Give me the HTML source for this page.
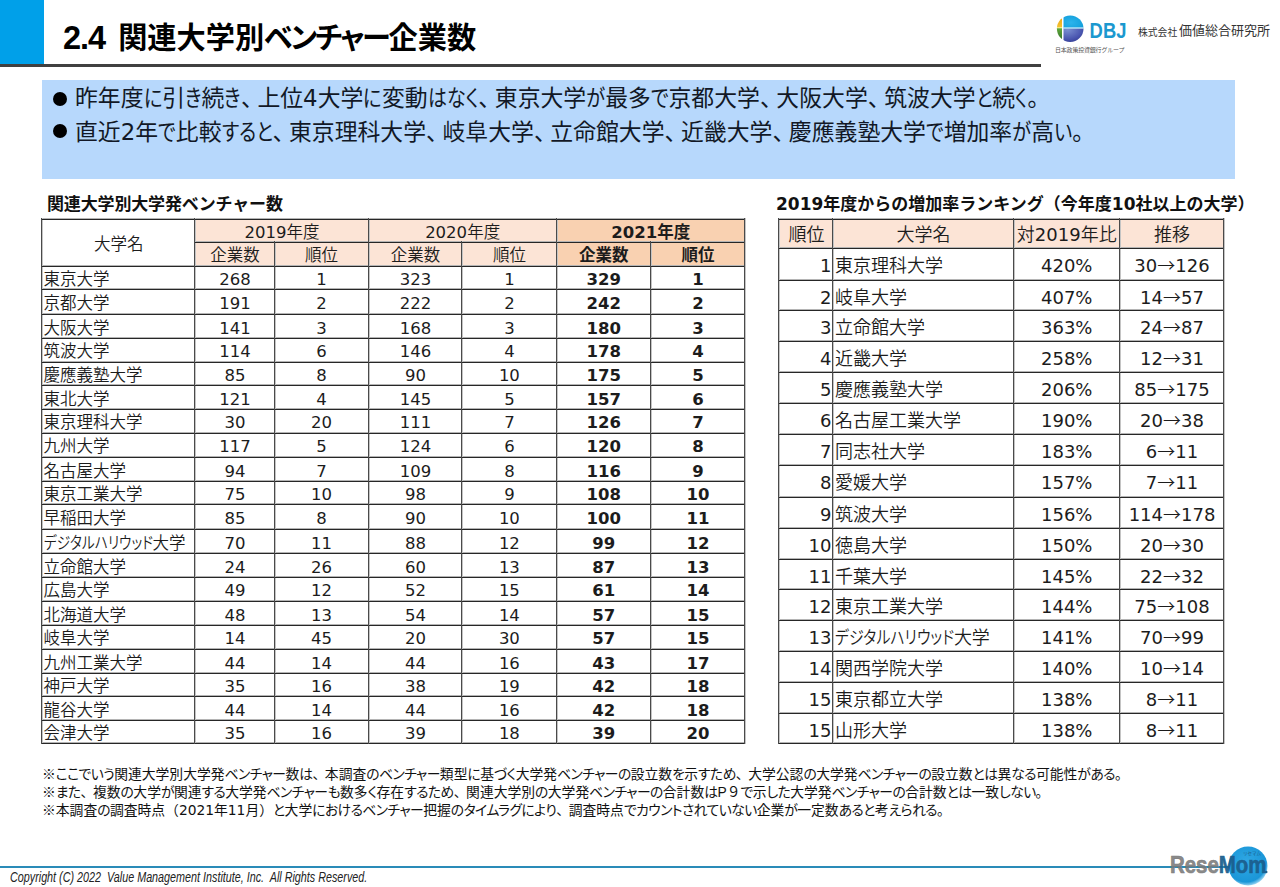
<!DOCTYPE html>
<html lang="ja"><head><meta charset="utf-8"><title>2.4</title><style>
*{margin:0;padding:0;box-sizing:border-box}
html,body{width:1280px;height:887px;overflow:hidden;background:#fff}
body{position:relative;font-family:"Liberation Sans","Noto Sans CJK JP",sans-serif;color:#111}
.a{position:absolute}
.sk{display:inline-block;transform:scaleX(0.83);transform-origin:0 50%;font-feature-settings:"palt"}
.hl{height:2px;background:linear-gradient(#b4b4b4 50%,#262626 50%)}
.vl{width:2px;background:linear-gradient(90deg,#4a4a4a 50%,#c4c4c4 50%)}
.c,.cl,.cr{position:absolute;white-space:nowrap;text-align:center;font-feature-settings:"palt";color:#1c1c1c}
.cl{text-align:left;padding-left:1.5px}
.cr{text-align:right;padding-right:2px}
.b{font-weight:bold}
.h{letter-spacing:var(--hl,-0.15em);font-feature-settings:"palt"}
.ar{font-family:"Noto Sans CJK JP",sans-serif;line-height:0}
.d{font-family:"DejaVu Sans","Noto Sans CJK JP",sans-serif;line-height:0;font-weight:400}
.b .d,.sub .d{font-weight:700}
.p{font-feature-settings:normal;letter-spacing:var(--pl,-0.28em)}
#title{left:63px;top:14px;font-size:29.2px;font-weight:bold;white-space:nowrap;line-height:48px;color:#000}
#title .num{font-size:32.5px;letter-spacing:-1px;margin-right:13px}
#title .kt{letter-spacing:-2.2px}
#title .t{font-feature-settings:"palt";position:relative;top:-1.5px}
.bul{position:absolute;left:52px;font-size:22.85px;font-weight:400;white-space:nowrap;line-height:32px;color:#121826;font-feature-settings:"palt"}
.bul .dot{position:absolute;left:1px;top:10px;width:14px;height:14px;border-radius:50%;background:#000}
.bul .tx{position:absolute;left:23px;top:0}
.sub{position:absolute;font-size:17px;font-weight:bold;white-space:nowrap;color:#111;line-height:24px}
.lt{font-size:16.5px;font-weight:350}
.rt{font-size:18px;font-weight:350}
.note{--hl:-0.04em;--pl:-0.1em;position:absolute;left:42px;font-size:13.8px;line-height:17.5px;white-space:nowrap;color:#111}
#dbj{left:1088px;top:14.5px;font-size:24px;font-weight:bold;color:#1a98cf;letter-spacing:-3.6px;line-height:30px;font-family:"Liberation Sans",sans-serif}
#dbjs{left:1055px;top:46px;font-size:6px;line-height:8px;color:#555;white-space:nowrap;letter-spacing:-0.2px}
#vmi{left:1179px;top:21px;font-size:13px;line-height:20px;color:#333;white-space:nowrap;letter-spacing:0px}
#vmi .s{position:absolute;left:-41px;top:2px;font-size:9.8px}
#copy{left:10px;top:868px;font-size:14.5px;line-height:18px;font-style:italic;white-space:nowrap;color:#222;transform:scaleX(0.743);transform-origin:0 0}
</style></head><body>
<div class="a" style="left:0;top:0;width:44px;height:64px;background:#00a0e9"></div>
<div class="a" style="left:0;top:64px;width:1041px;height:3px;background:#404040"></div>
<div id="title" class="a"><span class="num">2.4</span><span class="t">関連大学別<span class="kt">ベンチャー</span>企業数</span></div>
<svg class="a" style="left:1050px;top:10px" width="40" height="38" viewBox="1050 10 40 38">
<defs>
<clipPath id="cc"><circle cx="1070.2" cy="28.7" r="13.3"/></clipPath>
<linearGradient id="gy" x1="0" y1="0" x2="0" y2="1"><stop offset="0" stop-color="#e8a018"/><stop offset="1" stop-color="#f6c430"/></linearGradient>
<linearGradient id="gg" x1="0" y1="0" x2="0" y2="1"><stop offset="0" stop-color="#62aa3c"/><stop offset="1" stop-color="#2c6a28"/></linearGradient>
<radialGradient id="gb" cx="0.35" cy="0.6" r="0.9"><stop offset="0" stop-color="#2cb4ec"/><stop offset="0.7" stop-color="#14a0dc"/><stop offset="1" stop-color="#0f6fa8"/></radialGradient>
<radialGradient id="gi" cx="0.2" cy="0.1" r="1.1"><stop offset="0" stop-color="#7a8ed0"/><stop offset="0.6" stop-color="#4a56b0"/><stop offset="1" stop-color="#2a3488"/></radialGradient>
</defs>
<g clip-path="url(#cc)">
<rect x="1055" y="15" width="7" height="13" fill="url(#gy)"/>
<rect x="1055" y="28" width="7" height="14" fill="url(#gg)"/>
<rect x="1063.5" y="15" width="21" height="12.6" fill="url(#gb)"/>
<rect x="1063.5" y="28.4" width="21" height="14" fill="url(#gi)"/>
<rect x="1055" y="27.2" width="7" height="1.1" fill="#f4f0a0"/>
<rect x="1063.5" y="27.4" width="21" height="1.2" fill="#9ed8f4"/>
</g>
</svg>
<svg class="a" style="left:1086px;top:16px" width="44" height="26" viewBox="1086 16 44 26"><text x="1089.6" y="37.5" font-family="Liberation Sans, sans-serif" font-weight="bold" font-size="22.4" textLength="36.8" lengthAdjust="spacingAndGlyphs" fill="#1b98cf">DBJ</text></svg>
<div class="a" id="dbjs">日本政策投資銀行グループ</div>
<div class="a" id="vmi"><span class="s">株式会社</span>価値総合研究所</div>
<div class="a" style="left:42px;top:80px;width:1193px;height:99px;background:#b7d8fc"></div>
<div class="bul" style="top:82px"><span class="dot"></span><span class="tx">昨年度<span class="sk" style="transform:scaleX(0.8442);margin-right:-3.43px">に</span>引<span class="sk" style="transform:scaleX(0.8284);margin-right:-3.43px">き</span>続<span class="sk" style="transform:scaleX(0.8284);margin-right:-3.43px">き</span><span class="p">、</span>上位<span class="d">4</span>大学<span class="sk" style="transform:scaleX(0.8442);margin-right:-3.43px">に</span>変動<span class="sk" style="transform:scaleX(0.8313);margin-right:-10.28px">はなく</span><span class="p">、</span>東京大学<span class="sk" style="transform:scaleX(0.8468);margin-right:-3.43px">が</span>最多<span class="sk" style="transform:scaleX(0.8376);margin-right:-3.43px">で</span>京都大学<span class="p">、</span>大阪大学<span class="p">、</span>筑波大学<span class="sk" style="transform:scaleX(0.8297);margin-right:-3.43px">と</span>続<span class="sk" style="transform:scaleX(0.7817);margin-right:-3.43px">く</span><span class="p">。</span></span></div>
<div class="bul" style="top:115.7px"><span class="dot" style="top:8.8px"></span><span class="tx">直近<span class="d">2</span>年<span class="sk" style="transform:scaleX(0.8376);margin-right:-3.43px">で</span>比較<span class="sk" style="transform:scaleX(0.8322);margin-right:-10.28px">すると</span><span class="p">、</span>東京理科大学<span class="p">、</span>岐阜大学<span class="p">、</span>立命館大学<span class="p">、</span>近畿大学<span class="p">、</span>慶應義塾大学<span class="sk" style="transform:scaleX(0.8376);margin-right:-3.43px">で</span>増加率<span class="sk" style="transform:scaleX(0.8468);margin-right:-3.43px">が</span>高<span class="sk" style="transform:scaleX(0.8412);margin-right:-3.43px">い</span><span class="p">。</span></span></div>
<div class="sub" style="left:47px;top:192.5px;letter-spacing:-0.15px">関連大学別大学発ベンチャー数</div>
<div class="sub" style="left:776px;top:192.5px"><span class="d">2019</span>年度からの増加率ランキング（今年度<span class="d">10</span>社以上の大学）</div>
<div class="lt">
<div class="a" style="left:195.30px;top:219.00px;width:361.30px;height:46.50px;background:#fce4d6"></div>
<div class="a" style="left:556.60px;top:219.00px;width:188.40px;height:46.50px;background:#f9d1b1"></div>
<div class="c" style="left:42.00px;top:219.00px;width:153.30px;height:46.50px;line-height:46.50px;padding-top:1.50px">大学名</div>
<div class="c" style="left:195.30px;top:219.00px;width:173.40px;height:23.40px;line-height:23.40px;padding-top:1.50px"><span class="d">2019</span>年度</div>
<div class="c" style="left:368.70px;top:219.00px;width:187.90px;height:23.40px;line-height:23.40px;padding-top:1.50px"><span class="d">2020</span>年度</div>
<div class="c b" style="left:556.60px;top:219.00px;width:188.40px;height:23.40px;line-height:23.40px;padding-top:1.50px"><span class="d">2021</span>年度</div>
<div class="c" style="left:195.30px;top:242.40px;width:79.20px;height:23.10px;line-height:23.10px;padding-top:1.50px">企業数</div>
<div class="c" style="left:274.50px;top:242.40px;width:94.20px;height:23.10px;line-height:23.10px;padding-top:1.50px">順位</div>
<div class="c" style="left:368.70px;top:242.40px;width:93.50px;height:23.10px;line-height:23.10px;padding-top:1.50px">企業数</div>
<div class="c" style="left:462.20px;top:242.40px;width:94.40px;height:23.10px;line-height:23.10px;padding-top:1.50px">順位</div>
<div class="c b" style="left:556.60px;top:242.40px;width:94.40px;height:23.10px;line-height:23.10px;padding-top:1.50px">企業数</div>
<div class="c b" style="left:651.00px;top:242.40px;width:94.00px;height:23.10px;line-height:23.10px;padding-top:1.50px">順位</div>
<div class="cl" style="left:42.00px;top:265.50px;width:153.30px;height:23.70px;line-height:23.70px;padding-top:2.00px">東京大学</div>
<div class="c" style="left:195.30px;top:265.50px;width:79.20px;height:23.70px;line-height:23.70px;padding-top:2.00px"><span class="d">268</span></div>
<div class="c" style="left:274.50px;top:265.50px;width:94.20px;height:23.70px;line-height:23.70px;padding-top:2.00px"><span class="d">1</span></div>
<div class="c" style="left:368.70px;top:265.50px;width:93.50px;height:23.70px;line-height:23.70px;padding-top:2.00px"><span class="d">323</span></div>
<div class="c" style="left:462.20px;top:265.50px;width:94.40px;height:23.70px;line-height:23.70px;padding-top:2.00px"><span class="d">1</span></div>
<div class="c b" style="left:556.60px;top:265.50px;width:94.40px;height:23.70px;line-height:23.70px;padding-top:2.00px"><span class="d">329</span></div>
<div class="c b" style="left:651.00px;top:265.50px;width:94.00px;height:23.70px;line-height:23.70px;padding-top:2.00px"><span class="d">1</span></div>
<div class="cl" style="left:42.00px;top:289.20px;width:153.30px;height:24.40px;line-height:24.40px;padding-top:2.00px">京都大学</div>
<div class="c" style="left:195.30px;top:289.20px;width:79.20px;height:24.40px;line-height:24.40px;padding-top:2.00px"><span class="d">191</span></div>
<div class="c" style="left:274.50px;top:289.20px;width:94.20px;height:24.40px;line-height:24.40px;padding-top:2.00px"><span class="d">2</span></div>
<div class="c" style="left:368.70px;top:289.20px;width:93.50px;height:24.40px;line-height:24.40px;padding-top:2.00px"><span class="d">222</span></div>
<div class="c" style="left:462.20px;top:289.20px;width:94.40px;height:24.40px;line-height:24.40px;padding-top:2.00px"><span class="d">2</span></div>
<div class="c b" style="left:556.60px;top:289.20px;width:94.40px;height:24.40px;line-height:24.40px;padding-top:2.00px"><span class="d">242</span></div>
<div class="c b" style="left:651.00px;top:289.20px;width:94.00px;height:24.40px;line-height:24.40px;padding-top:2.00px"><span class="d">2</span></div>
<div class="cl" style="left:42.00px;top:313.60px;width:153.30px;height:24.10px;line-height:24.10px;padding-top:2.00px">大阪大学</div>
<div class="c" style="left:195.30px;top:313.60px;width:79.20px;height:24.10px;line-height:24.10px;padding-top:2.00px"><span class="d">141</span></div>
<div class="c" style="left:274.50px;top:313.60px;width:94.20px;height:24.10px;line-height:24.10px;padding-top:2.00px"><span class="d">3</span></div>
<div class="c" style="left:368.70px;top:313.60px;width:93.50px;height:24.10px;line-height:24.10px;padding-top:2.00px"><span class="d">168</span></div>
<div class="c" style="left:462.20px;top:313.60px;width:94.40px;height:24.10px;line-height:24.10px;padding-top:2.00px"><span class="d">3</span></div>
<div class="c b" style="left:556.60px;top:313.60px;width:94.40px;height:24.10px;line-height:24.10px;padding-top:2.00px"><span class="d">180</span></div>
<div class="c b" style="left:651.00px;top:313.60px;width:94.00px;height:24.10px;line-height:24.10px;padding-top:2.00px"><span class="d">3</span></div>
<div class="cl" style="left:42.00px;top:337.70px;width:153.30px;height:23.80px;line-height:23.80px;padding-top:2.00px">筑波大学</div>
<div class="c" style="left:195.30px;top:337.70px;width:79.20px;height:23.80px;line-height:23.80px;padding-top:2.00px"><span class="d">114</span></div>
<div class="c" style="left:274.50px;top:337.70px;width:94.20px;height:23.80px;line-height:23.80px;padding-top:2.00px"><span class="d">6</span></div>
<div class="c" style="left:368.70px;top:337.70px;width:93.50px;height:23.80px;line-height:23.80px;padding-top:2.00px"><span class="d">146</span></div>
<div class="c" style="left:462.20px;top:337.70px;width:94.40px;height:23.80px;line-height:23.80px;padding-top:2.00px"><span class="d">4</span></div>
<div class="c b" style="left:556.60px;top:337.70px;width:94.40px;height:23.80px;line-height:23.80px;padding-top:2.00px"><span class="d">178</span></div>
<div class="c b" style="left:651.00px;top:337.70px;width:94.00px;height:23.80px;line-height:23.80px;padding-top:2.00px"><span class="d">4</span></div>
<div class="cl" style="left:42.00px;top:361.50px;width:153.30px;height:23.80px;line-height:23.80px;padding-top:2.00px">慶應義塾大学</div>
<div class="c" style="left:195.30px;top:361.50px;width:79.20px;height:23.80px;line-height:23.80px;padding-top:2.00px"><span class="d">85</span></div>
<div class="c" style="left:274.50px;top:361.50px;width:94.20px;height:23.80px;line-height:23.80px;padding-top:2.00px"><span class="d">8</span></div>
<div class="c" style="left:368.70px;top:361.50px;width:93.50px;height:23.80px;line-height:23.80px;padding-top:2.00px"><span class="d">90</span></div>
<div class="c" style="left:462.20px;top:361.50px;width:94.40px;height:23.80px;line-height:23.80px;padding-top:2.00px"><span class="d">10</span></div>
<div class="c b" style="left:556.60px;top:361.50px;width:94.40px;height:23.80px;line-height:23.80px;padding-top:2.00px"><span class="d">175</span></div>
<div class="c b" style="left:651.00px;top:361.50px;width:94.00px;height:23.80px;line-height:23.80px;padding-top:2.00px"><span class="d">5</span></div>
<div class="cl" style="left:42.00px;top:385.30px;width:153.30px;height:24.10px;line-height:24.10px;padding-top:2.00px">東北大学</div>
<div class="c" style="left:195.30px;top:385.30px;width:79.20px;height:24.10px;line-height:24.10px;padding-top:2.00px"><span class="d">121</span></div>
<div class="c" style="left:274.50px;top:385.30px;width:94.20px;height:24.10px;line-height:24.10px;padding-top:2.00px"><span class="d">4</span></div>
<div class="c" style="left:368.70px;top:385.30px;width:93.50px;height:24.10px;line-height:24.10px;padding-top:2.00px"><span class="d">145</span></div>
<div class="c" style="left:462.20px;top:385.30px;width:94.40px;height:24.10px;line-height:24.10px;padding-top:2.00px"><span class="d">5</span></div>
<div class="c b" style="left:556.60px;top:385.30px;width:94.40px;height:24.10px;line-height:24.10px;padding-top:2.00px"><span class="d">157</span></div>
<div class="c b" style="left:651.00px;top:385.30px;width:94.00px;height:24.10px;line-height:24.10px;padding-top:2.00px"><span class="d">6</span></div>
<div class="cl" style="left:42.00px;top:409.40px;width:153.30px;height:23.80px;line-height:23.80px;padding-top:2.00px">東京理科大学</div>
<div class="c" style="left:195.30px;top:409.40px;width:79.20px;height:23.80px;line-height:23.80px;padding-top:2.00px"><span class="d">30</span></div>
<div class="c" style="left:274.50px;top:409.40px;width:94.20px;height:23.80px;line-height:23.80px;padding-top:2.00px"><span class="d">20</span></div>
<div class="c" style="left:368.70px;top:409.40px;width:93.50px;height:23.80px;line-height:23.80px;padding-top:2.00px"><span class="d">111</span></div>
<div class="c" style="left:462.20px;top:409.40px;width:94.40px;height:23.80px;line-height:23.80px;padding-top:2.00px"><span class="d">7</span></div>
<div class="c b" style="left:556.60px;top:409.40px;width:94.40px;height:23.80px;line-height:23.80px;padding-top:2.00px"><span class="d">126</span></div>
<div class="c b" style="left:651.00px;top:409.40px;width:94.00px;height:23.80px;line-height:23.80px;padding-top:2.00px"><span class="d">7</span></div>
<div class="cl" style="left:42.00px;top:433.20px;width:153.30px;height:23.80px;line-height:23.80px;padding-top:2.00px">九州大学</div>
<div class="c" style="left:195.30px;top:433.20px;width:79.20px;height:23.80px;line-height:23.80px;padding-top:2.00px"><span class="d">117</span></div>
<div class="c" style="left:274.50px;top:433.20px;width:94.20px;height:23.80px;line-height:23.80px;padding-top:2.00px"><span class="d">5</span></div>
<div class="c" style="left:368.70px;top:433.20px;width:93.50px;height:23.80px;line-height:23.80px;padding-top:2.00px"><span class="d">124</span></div>
<div class="c" style="left:462.20px;top:433.20px;width:94.40px;height:23.80px;line-height:23.80px;padding-top:2.00px"><span class="d">6</span></div>
<div class="c b" style="left:556.60px;top:433.20px;width:94.40px;height:23.80px;line-height:23.80px;padding-top:2.00px"><span class="d">120</span></div>
<div class="c b" style="left:651.00px;top:433.20px;width:94.00px;height:23.80px;line-height:23.80px;padding-top:2.00px"><span class="d">8</span></div>
<div class="cl" style="left:42.00px;top:457.00px;width:153.30px;height:24.00px;line-height:24.00px;padding-top:2.00px">名古屋大学</div>
<div class="c" style="left:195.30px;top:457.00px;width:79.20px;height:24.00px;line-height:24.00px;padding-top:2.00px"><span class="d">94</span></div>
<div class="c" style="left:274.50px;top:457.00px;width:94.20px;height:24.00px;line-height:24.00px;padding-top:2.00px"><span class="d">7</span></div>
<div class="c" style="left:368.70px;top:457.00px;width:93.50px;height:24.00px;line-height:24.00px;padding-top:2.00px"><span class="d">109</span></div>
<div class="c" style="left:462.20px;top:457.00px;width:94.40px;height:24.00px;line-height:24.00px;padding-top:2.00px"><span class="d">8</span></div>
<div class="c b" style="left:556.60px;top:457.00px;width:94.40px;height:24.00px;line-height:24.00px;padding-top:2.00px"><span class="d">116</span></div>
<div class="c b" style="left:651.00px;top:457.00px;width:94.00px;height:24.00px;line-height:24.00px;padding-top:2.00px"><span class="d">9</span></div>
<div class="cl" style="left:42.00px;top:481.00px;width:153.30px;height:23.20px;line-height:23.20px;padding-top:2.00px">東京工業大学</div>
<div class="c" style="left:195.30px;top:481.00px;width:79.20px;height:23.20px;line-height:23.20px;padding-top:2.00px"><span class="d">75</span></div>
<div class="c" style="left:274.50px;top:481.00px;width:94.20px;height:23.20px;line-height:23.20px;padding-top:2.00px"><span class="d">10</span></div>
<div class="c" style="left:368.70px;top:481.00px;width:93.50px;height:23.20px;line-height:23.20px;padding-top:2.00px"><span class="d">98</span></div>
<div class="c" style="left:462.20px;top:481.00px;width:94.40px;height:23.20px;line-height:23.20px;padding-top:2.00px"><span class="d">9</span></div>
<div class="c b" style="left:556.60px;top:481.00px;width:94.40px;height:23.20px;line-height:23.20px;padding-top:2.00px"><span class="d">108</span></div>
<div class="c b" style="left:651.00px;top:481.00px;width:94.00px;height:23.20px;line-height:23.20px;padding-top:2.00px"><span class="d">10</span></div>
<div class="cl" style="left:42.00px;top:504.20px;width:153.30px;height:24.50px;line-height:24.50px;padding-top:2.00px">早稲田大学</div>
<div class="c" style="left:195.30px;top:504.20px;width:79.20px;height:24.50px;line-height:24.50px;padding-top:2.00px"><span class="d">85</span></div>
<div class="c" style="left:274.50px;top:504.20px;width:94.20px;height:24.50px;line-height:24.50px;padding-top:2.00px"><span class="d">8</span></div>
<div class="c" style="left:368.70px;top:504.20px;width:93.50px;height:24.50px;line-height:24.50px;padding-top:2.00px"><span class="d">90</span></div>
<div class="c" style="left:462.20px;top:504.20px;width:94.40px;height:24.50px;line-height:24.50px;padding-top:2.00px"><span class="d">10</span></div>
<div class="c b" style="left:556.60px;top:504.20px;width:94.40px;height:24.50px;line-height:24.50px;padding-top:2.00px"><span class="d">100</span></div>
<div class="c b" style="left:651.00px;top:504.20px;width:94.00px;height:24.50px;line-height:24.50px;padding-top:2.00px"><span class="d">11</span></div>
<div class="cl" style="left:42.00px;top:528.70px;width:153.30px;height:24.00px;line-height:24.00px;padding-top:2.00px"><span class="sk" style="margin-right:-1.354em">デジタルハリウッド</span>大学</div>
<div class="c" style="left:195.30px;top:528.70px;width:79.20px;height:24.00px;line-height:24.00px;padding-top:2.00px"><span class="d">70</span></div>
<div class="c" style="left:274.50px;top:528.70px;width:94.20px;height:24.00px;line-height:24.00px;padding-top:2.00px"><span class="d">11</span></div>
<div class="c" style="left:368.70px;top:528.70px;width:93.50px;height:24.00px;line-height:24.00px;padding-top:2.00px"><span class="d">88</span></div>
<div class="c" style="left:462.20px;top:528.70px;width:94.40px;height:24.00px;line-height:24.00px;padding-top:2.00px"><span class="d">12</span></div>
<div class="c b" style="left:556.60px;top:528.70px;width:94.40px;height:24.00px;line-height:24.00px;padding-top:2.00px"><span class="d">99</span></div>
<div class="c b" style="left:651.00px;top:528.70px;width:94.00px;height:24.00px;line-height:24.00px;padding-top:2.00px"><span class="d">12</span></div>
<div class="cl" style="left:42.00px;top:552.70px;width:153.30px;height:24.00px;line-height:24.00px;padding-top:2.00px">立命館大学</div>
<div class="c" style="left:195.30px;top:552.70px;width:79.20px;height:24.00px;line-height:24.00px;padding-top:2.00px"><span class="d">24</span></div>
<div class="c" style="left:274.50px;top:552.70px;width:94.20px;height:24.00px;line-height:24.00px;padding-top:2.00px"><span class="d">26</span></div>
<div class="c" style="left:368.70px;top:552.70px;width:93.50px;height:24.00px;line-height:24.00px;padding-top:2.00px"><span class="d">60</span></div>
<div class="c" style="left:462.20px;top:552.70px;width:94.40px;height:24.00px;line-height:24.00px;padding-top:2.00px"><span class="d">13</span></div>
<div class="c b" style="left:556.60px;top:552.70px;width:94.40px;height:24.00px;line-height:24.00px;padding-top:2.00px"><span class="d">87</span></div>
<div class="c b" style="left:651.00px;top:552.70px;width:94.00px;height:24.00px;line-height:24.00px;padding-top:2.00px"><span class="d">13</span></div>
<div class="cl" style="left:42.00px;top:576.70px;width:153.30px;height:23.90px;line-height:23.90px;padding-top:2.00px">広島大学</div>
<div class="c" style="left:195.30px;top:576.70px;width:79.20px;height:23.90px;line-height:23.90px;padding-top:2.00px"><span class="d">49</span></div>
<div class="c" style="left:274.50px;top:576.70px;width:94.20px;height:23.90px;line-height:23.90px;padding-top:2.00px"><span class="d">12</span></div>
<div class="c" style="left:368.70px;top:576.70px;width:93.50px;height:23.90px;line-height:23.90px;padding-top:2.00px"><span class="d">52</span></div>
<div class="c" style="left:462.20px;top:576.70px;width:94.40px;height:23.90px;line-height:23.90px;padding-top:2.00px"><span class="d">15</span></div>
<div class="c b" style="left:556.60px;top:576.70px;width:94.40px;height:23.90px;line-height:23.90px;padding-top:2.00px"><span class="d">61</span></div>
<div class="c b" style="left:651.00px;top:576.70px;width:94.00px;height:23.90px;line-height:23.90px;padding-top:2.00px"><span class="d">14</span></div>
<div class="cl" style="left:42.00px;top:600.60px;width:153.30px;height:24.00px;line-height:24.00px;padding-top:2.00px">北海道大学</div>
<div class="c" style="left:195.30px;top:600.60px;width:79.20px;height:24.00px;line-height:24.00px;padding-top:2.00px"><span class="d">48</span></div>
<div class="c" style="left:274.50px;top:600.60px;width:94.20px;height:24.00px;line-height:24.00px;padding-top:2.00px"><span class="d">13</span></div>
<div class="c" style="left:368.70px;top:600.60px;width:93.50px;height:24.00px;line-height:24.00px;padding-top:2.00px"><span class="d">54</span></div>
<div class="c" style="left:462.20px;top:600.60px;width:94.40px;height:24.00px;line-height:24.00px;padding-top:2.00px"><span class="d">14</span></div>
<div class="c b" style="left:556.60px;top:600.60px;width:94.40px;height:24.00px;line-height:24.00px;padding-top:2.00px"><span class="d">57</span></div>
<div class="c b" style="left:651.00px;top:600.60px;width:94.00px;height:24.00px;line-height:24.00px;padding-top:2.00px"><span class="d">15</span></div>
<div class="cl" style="left:42.00px;top:624.60px;width:153.30px;height:23.90px;line-height:23.90px;padding-top:2.00px">岐阜大学</div>
<div class="c" style="left:195.30px;top:624.60px;width:79.20px;height:23.90px;line-height:23.90px;padding-top:2.00px"><span class="d">14</span></div>
<div class="c" style="left:274.50px;top:624.60px;width:94.20px;height:23.90px;line-height:23.90px;padding-top:2.00px"><span class="d">45</span></div>
<div class="c" style="left:368.70px;top:624.60px;width:93.50px;height:23.90px;line-height:23.90px;padding-top:2.00px"><span class="d">20</span></div>
<div class="c" style="left:462.20px;top:624.60px;width:94.40px;height:23.90px;line-height:23.90px;padding-top:2.00px"><span class="d">30</span></div>
<div class="c b" style="left:556.60px;top:624.60px;width:94.40px;height:23.90px;line-height:23.90px;padding-top:2.00px"><span class="d">57</span></div>
<div class="c b" style="left:651.00px;top:624.60px;width:94.00px;height:23.90px;line-height:23.90px;padding-top:2.00px"><span class="d">15</span></div>
<div class="cl" style="left:42.00px;top:648.50px;width:153.30px;height:24.00px;line-height:24.00px;padding-top:2.00px">九州工業大学</div>
<div class="c" style="left:195.30px;top:648.50px;width:79.20px;height:24.00px;line-height:24.00px;padding-top:2.00px"><span class="d">44</span></div>
<div class="c" style="left:274.50px;top:648.50px;width:94.20px;height:24.00px;line-height:24.00px;padding-top:2.00px"><span class="d">14</span></div>
<div class="c" style="left:368.70px;top:648.50px;width:93.50px;height:24.00px;line-height:24.00px;padding-top:2.00px"><span class="d">44</span></div>
<div class="c" style="left:462.20px;top:648.50px;width:94.40px;height:24.00px;line-height:24.00px;padding-top:2.00px"><span class="d">16</span></div>
<div class="c b" style="left:556.60px;top:648.50px;width:94.40px;height:24.00px;line-height:24.00px;padding-top:2.00px"><span class="d">43</span></div>
<div class="c b" style="left:651.00px;top:648.50px;width:94.00px;height:24.00px;line-height:24.00px;padding-top:2.00px"><span class="d">17</span></div>
<div class="cl" style="left:42.00px;top:672.50px;width:153.30px;height:23.90px;line-height:23.90px;padding-top:2.00px">神戸大学</div>
<div class="c" style="left:195.30px;top:672.50px;width:79.20px;height:23.90px;line-height:23.90px;padding-top:2.00px"><span class="d">35</span></div>
<div class="c" style="left:274.50px;top:672.50px;width:94.20px;height:23.90px;line-height:23.90px;padding-top:2.00px"><span class="d">16</span></div>
<div class="c" style="left:368.70px;top:672.50px;width:93.50px;height:23.90px;line-height:23.90px;padding-top:2.00px"><span class="d">38</span></div>
<div class="c" style="left:462.20px;top:672.50px;width:94.40px;height:23.90px;line-height:23.90px;padding-top:2.00px"><span class="d">19</span></div>
<div class="c b" style="left:556.60px;top:672.50px;width:94.40px;height:23.90px;line-height:23.90px;padding-top:2.00px"><span class="d">42</span></div>
<div class="c b" style="left:651.00px;top:672.50px;width:94.00px;height:23.90px;line-height:23.90px;padding-top:2.00px"><span class="d">18</span></div>
<div class="cl" style="left:42.00px;top:696.40px;width:153.30px;height:24.00px;line-height:24.00px;padding-top:2.00px">龍谷大学</div>
<div class="c" style="left:195.30px;top:696.40px;width:79.20px;height:24.00px;line-height:24.00px;padding-top:2.00px"><span class="d">44</span></div>
<div class="c" style="left:274.50px;top:696.40px;width:94.20px;height:24.00px;line-height:24.00px;padding-top:2.00px"><span class="d">14</span></div>
<div class="c" style="left:368.70px;top:696.40px;width:93.50px;height:24.00px;line-height:24.00px;padding-top:2.00px"><span class="d">44</span></div>
<div class="c" style="left:462.20px;top:696.40px;width:94.40px;height:24.00px;line-height:24.00px;padding-top:2.00px"><span class="d">16</span></div>
<div class="c b" style="left:556.60px;top:696.40px;width:94.40px;height:24.00px;line-height:24.00px;padding-top:2.00px"><span class="d">42</span></div>
<div class="c b" style="left:651.00px;top:696.40px;width:94.00px;height:24.00px;line-height:24.00px;padding-top:2.00px"><span class="d">18</span></div>
<div class="cl" style="left:42.00px;top:720.40px;width:153.30px;height:22.90px;line-height:22.90px;padding-top:2.00px">会津大学</div>
<div class="c" style="left:195.30px;top:720.40px;width:79.20px;height:22.90px;line-height:22.90px;padding-top:2.00px"><span class="d">35</span></div>
<div class="c" style="left:274.50px;top:720.40px;width:94.20px;height:22.90px;line-height:22.90px;padding-top:2.00px"><span class="d">16</span></div>
<div class="c" style="left:368.70px;top:720.40px;width:93.50px;height:22.90px;line-height:22.90px;padding-top:2.00px"><span class="d">39</span></div>
<div class="c" style="left:462.20px;top:720.40px;width:94.40px;height:22.90px;line-height:22.90px;padding-top:2.00px"><span class="d">18</span></div>
<div class="c b" style="left:556.60px;top:720.40px;width:94.40px;height:22.90px;line-height:22.90px;padding-top:2.00px"><span class="d">39</span></div>
<div class="c b" style="left:651.00px;top:720.40px;width:94.00px;height:22.90px;line-height:22.90px;padding-top:2.00px"><span class="d">20</span></div>
<div class="a" style="left:41px;top:218px;width:704px;height:1px;background:#b4b4b4"></div>
<div class="a" style="left:194px;top:241px;width:551px;height:1px;background:#b4b4b4"></div>
<div class="a" style="left:41px;top:265px;width:704px;height:1px;background:#b4b4b4"></div>
<div class="a" style="left:41px;top:288px;width:704px;height:1px;background:#b4b4b4"></div>
<div class="a" style="left:41px;top:313px;width:704px;height:1px;background:#b4b4b4"></div>
<div class="a" style="left:41px;top:337px;width:704px;height:1px;background:#b4b4b4"></div>
<div class="a" style="left:41px;top:361px;width:704px;height:1px;background:#b4b4b4"></div>
<div class="a" style="left:41px;top:384px;width:704px;height:1px;background:#b4b4b4"></div>
<div class="a" style="left:41px;top:408px;width:704px;height:1px;background:#b4b4b4"></div>
<div class="a" style="left:41px;top:432px;width:704px;height:1px;background:#b4b4b4"></div>
<div class="a" style="left:41px;top:456px;width:704px;height:1px;background:#b4b4b4"></div>
<div class="a" style="left:41px;top:480px;width:704px;height:1px;background:#b4b4b4"></div>
<div class="a" style="left:41px;top:503px;width:704px;height:1px;background:#b4b4b4"></div>
<div class="a" style="left:41px;top:528px;width:704px;height:1px;background:#b4b4b4"></div>
<div class="a" style="left:41px;top:552px;width:704px;height:1px;background:#b4b4b4"></div>
<div class="a" style="left:41px;top:576px;width:704px;height:1px;background:#b4b4b4"></div>
<div class="a" style="left:41px;top:600px;width:704px;height:1px;background:#b4b4b4"></div>
<div class="a" style="left:41px;top:624px;width:704px;height:1px;background:#b4b4b4"></div>
<div class="a" style="left:41px;top:648px;width:704px;height:1px;background:#b4b4b4"></div>
<div class="a" style="left:41px;top:672px;width:704px;height:1px;background:#b4b4b4"></div>
<div class="a" style="left:41px;top:695px;width:704px;height:1px;background:#b4b4b4"></div>
<div class="a" style="left:41px;top:719px;width:704px;height:1px;background:#b4b4b4"></div>
<div class="a" style="left:41px;top:742px;width:704px;height:1px;background:#b4b4b4"></div>
<div class="a" style="left:42px;top:218px;width:1px;height:526px;background:#c4c4c4"></div>
<div class="a" style="left:195px;top:218px;width:1px;height:526px;background:#c4c4c4"></div>
<div class="a" style="left:275px;top:241px;width:1px;height:503px;background:#c4c4c4"></div>
<div class="a" style="left:369px;top:218px;width:1px;height:526px;background:#c4c4c4"></div>
<div class="a" style="left:462px;top:241px;width:1px;height:503px;background:#c4c4c4"></div>
<div class="a" style="left:557px;top:218px;width:1px;height:526px;background:#c4c4c4"></div>
<div class="a" style="left:651px;top:241px;width:1px;height:503px;background:#c4c4c4"></div>
<div class="a" style="left:745px;top:218px;width:1px;height:526px;background:#c4c4c4"></div>
<div class="a" style="left:41px;top:219px;width:704px;height:1px;background:#262626"></div>
<div class="a" style="left:194px;top:242px;width:551px;height:1px;background:#262626"></div>
<div class="a" style="left:41px;top:266px;width:704px;height:1px;background:#262626"></div>
<div class="a" style="left:41px;top:289px;width:704px;height:1px;background:#262626"></div>
<div class="a" style="left:41px;top:314px;width:704px;height:1px;background:#262626"></div>
<div class="a" style="left:41px;top:338px;width:704px;height:1px;background:#262626"></div>
<div class="a" style="left:41px;top:362px;width:704px;height:1px;background:#262626"></div>
<div class="a" style="left:41px;top:385px;width:704px;height:1px;background:#262626"></div>
<div class="a" style="left:41px;top:409px;width:704px;height:1px;background:#262626"></div>
<div class="a" style="left:41px;top:433px;width:704px;height:1px;background:#262626"></div>
<div class="a" style="left:41px;top:457px;width:704px;height:1px;background:#262626"></div>
<div class="a" style="left:41px;top:481px;width:704px;height:1px;background:#262626"></div>
<div class="a" style="left:41px;top:504px;width:704px;height:1px;background:#262626"></div>
<div class="a" style="left:41px;top:529px;width:704px;height:1px;background:#262626"></div>
<div class="a" style="left:41px;top:553px;width:704px;height:1px;background:#262626"></div>
<div class="a" style="left:41px;top:577px;width:704px;height:1px;background:#262626"></div>
<div class="a" style="left:41px;top:601px;width:704px;height:1px;background:#262626"></div>
<div class="a" style="left:41px;top:625px;width:704px;height:1px;background:#262626"></div>
<div class="a" style="left:41px;top:649px;width:704px;height:1px;background:#262626"></div>
<div class="a" style="left:41px;top:673px;width:704px;height:1px;background:#262626"></div>
<div class="a" style="left:41px;top:696px;width:704px;height:1px;background:#262626"></div>
<div class="a" style="left:41px;top:720px;width:704px;height:1px;background:#262626"></div>
<div class="a" style="left:41px;top:743px;width:704px;height:1px;background:#262626"></div>
<div class="a" style="left:41px;top:218px;width:1px;height:526px;background:#4a4a4a"></div>
<div class="a" style="left:194px;top:218px;width:1px;height:526px;background:#4a4a4a"></div>
<div class="a" style="left:274px;top:241px;width:1px;height:503px;background:#4a4a4a"></div>
<div class="a" style="left:368px;top:218px;width:1px;height:526px;background:#4a4a4a"></div>
<div class="a" style="left:461px;top:241px;width:1px;height:503px;background:#4a4a4a"></div>
<div class="a" style="left:556px;top:218px;width:1px;height:526px;background:#4a4a4a"></div>
<div class="a" style="left:650px;top:241px;width:1px;height:503px;background:#4a4a4a"></div>
<div class="a" style="left:744px;top:218px;width:1px;height:526px;background:#4a4a4a"></div>
</div>
<div class="rt">
<div class="a" style="left:779.40px;top:219.00px;width:444.60px;height:29.30px;background:#fce4d6"></div>
<div class="c" style="left:779.40px;top:219.00px;width:54.00px;height:29.30px;line-height:29.30px;padding-top:1.50px">順位</div>
<div class="c" style="left:833.40px;top:219.00px;width:180.10px;height:29.30px;line-height:29.30px;padding-top:1.50px">大学名</div>
<div class="c" style="left:1013.50px;top:219.00px;width:106.50px;height:29.30px;line-height:29.30px;padding-top:1.50px">対<span class="d">2019</span>年比</div>
<div class="c" style="left:1120.00px;top:219.00px;width:104.00px;height:29.30px;line-height:29.30px;padding-top:1.50px">推移</div>
<div class="cr" style="left:779.40px;top:248.30px;width:54.00px;height:31.30px;line-height:31.30px;padding-top:3.00px"><span class="d">1</span></div>
<div class="cl" style="left:833.40px;top:248.30px;width:180.10px;height:31.30px;line-height:31.30px;padding-top:3.00px">東京理科大学</div>
<div class="c" style="left:1013.50px;top:248.30px;width:106.50px;height:31.30px;line-height:31.30px;padding-top:3.00px"><span class="d">420%</span></div>
<div class="c" style="left:1120.00px;top:248.30px;width:104.00px;height:31.30px;line-height:31.30px;padding-top:3.00px"><span class="d">30</span><span class="ar">→</span><span class="d">126</span></div>
<div class="cr" style="left:779.40px;top:279.60px;width:54.00px;height:30.70px;line-height:30.70px;padding-top:3.00px"><span class="d">2</span></div>
<div class="cl" style="left:833.40px;top:279.60px;width:180.10px;height:30.70px;line-height:30.70px;padding-top:3.00px">岐阜大学</div>
<div class="c" style="left:1013.50px;top:279.60px;width:106.50px;height:30.70px;line-height:30.70px;padding-top:3.00px"><span class="d">407%</span></div>
<div class="c" style="left:1120.00px;top:279.60px;width:104.00px;height:30.70px;line-height:30.70px;padding-top:3.00px"><span class="d">14</span><span class="ar">→</span><span class="d">57</span></div>
<div class="cr" style="left:779.40px;top:310.30px;width:54.00px;height:31.10px;line-height:31.10px;padding-top:3.00px"><span class="d">3</span></div>
<div class="cl" style="left:833.40px;top:310.30px;width:180.10px;height:31.10px;line-height:31.10px;padding-top:3.00px">立命館大学</div>
<div class="c" style="left:1013.50px;top:310.30px;width:106.50px;height:31.10px;line-height:31.10px;padding-top:3.00px"><span class="d">363%</span></div>
<div class="c" style="left:1120.00px;top:310.30px;width:104.00px;height:31.10px;line-height:31.10px;padding-top:3.00px"><span class="d">24</span><span class="ar">→</span><span class="d">87</span></div>
<div class="cr" style="left:779.40px;top:341.40px;width:54.00px;height:30.80px;line-height:30.80px;padding-top:3.00px"><span class="d">4</span></div>
<div class="cl" style="left:833.40px;top:341.40px;width:180.10px;height:30.80px;line-height:30.80px;padding-top:3.00px">近畿大学</div>
<div class="c" style="left:1013.50px;top:341.40px;width:106.50px;height:30.80px;line-height:30.80px;padding-top:3.00px"><span class="d">258%</span></div>
<div class="c" style="left:1120.00px;top:341.40px;width:104.00px;height:30.80px;line-height:30.80px;padding-top:3.00px"><span class="d">12</span><span class="ar">→</span><span class="d">31</span></div>
<div class="cr" style="left:779.40px;top:372.20px;width:54.00px;height:31.10px;line-height:31.10px;padding-top:3.00px"><span class="d">5</span></div>
<div class="cl" style="left:833.40px;top:372.20px;width:180.10px;height:31.10px;line-height:31.10px;padding-top:3.00px">慶應義塾大学</div>
<div class="c" style="left:1013.50px;top:372.20px;width:106.50px;height:31.10px;line-height:31.10px;padding-top:3.00px"><span class="d">206%</span></div>
<div class="c" style="left:1120.00px;top:372.20px;width:104.00px;height:31.10px;line-height:31.10px;padding-top:3.00px"><span class="d">85</span><span class="ar">→</span><span class="d">175</span></div>
<div class="cr" style="left:779.40px;top:403.30px;width:54.00px;height:31.00px;line-height:31.00px;padding-top:3.00px"><span class="d">6</span></div>
<div class="cl" style="left:833.40px;top:403.30px;width:180.10px;height:31.00px;line-height:31.00px;padding-top:3.00px">名古屋工業大学</div>
<div class="c" style="left:1013.50px;top:403.30px;width:106.50px;height:31.00px;line-height:31.00px;padding-top:3.00px"><span class="d">190%</span></div>
<div class="c" style="left:1120.00px;top:403.30px;width:104.00px;height:31.00px;line-height:31.00px;padding-top:3.00px"><span class="d">20</span><span class="ar">→</span><span class="d">38</span></div>
<div class="cr" style="left:779.40px;top:434.30px;width:54.00px;height:31.10px;line-height:31.10px;padding-top:3.00px"><span class="d">7</span></div>
<div class="cl" style="left:833.40px;top:434.30px;width:180.10px;height:31.10px;line-height:31.10px;padding-top:3.00px">同志社大学</div>
<div class="c" style="left:1013.50px;top:434.30px;width:106.50px;height:31.10px;line-height:31.10px;padding-top:3.00px"><span class="d">183%</span></div>
<div class="c" style="left:1120.00px;top:434.30px;width:104.00px;height:31.10px;line-height:31.10px;padding-top:3.00px"><span class="d">6</span><span class="ar">→</span><span class="d">11</span></div>
<div class="cr" style="left:779.40px;top:465.40px;width:54.00px;height:31.10px;line-height:31.10px;padding-top:3.00px"><span class="d">8</span></div>
<div class="cl" style="left:833.40px;top:465.40px;width:180.10px;height:31.10px;line-height:31.10px;padding-top:3.00px">愛媛大学</div>
<div class="c" style="left:1013.50px;top:465.40px;width:106.50px;height:31.10px;line-height:31.10px;padding-top:3.00px"><span class="d">157%</span></div>
<div class="c" style="left:1120.00px;top:465.40px;width:104.00px;height:31.10px;line-height:31.10px;padding-top:3.00px"><span class="d">7</span><span class="ar">→</span><span class="d">11</span></div>
<div class="cr" style="left:779.40px;top:496.50px;width:54.00px;height:31.30px;line-height:31.30px;padding-top:3.00px"><span class="d">9</span></div>
<div class="cl" style="left:833.40px;top:496.50px;width:180.10px;height:31.30px;line-height:31.30px;padding-top:3.00px">筑波大学</div>
<div class="c" style="left:1013.50px;top:496.50px;width:106.50px;height:31.30px;line-height:31.30px;padding-top:3.00px"><span class="d">156%</span></div>
<div class="c" style="left:1120.00px;top:496.50px;width:104.00px;height:31.30px;line-height:31.30px;padding-top:3.00px"><span class="d">114</span><span class="ar">→</span><span class="d">178</span></div>
<div class="cr" style="left:779.40px;top:527.80px;width:54.00px;height:30.80px;line-height:30.80px;padding-top:3.00px"><span class="d">10</span></div>
<div class="cl" style="left:833.40px;top:527.80px;width:180.10px;height:30.80px;line-height:30.80px;padding-top:3.00px">徳島大学</div>
<div class="c" style="left:1013.50px;top:527.80px;width:106.50px;height:30.80px;line-height:30.80px;padding-top:3.00px"><span class="d">150%</span></div>
<div class="c" style="left:1120.00px;top:527.80px;width:104.00px;height:30.80px;line-height:30.80px;padding-top:3.00px"><span class="d">20</span><span class="ar">→</span><span class="d">30</span></div>
<div class="cr" style="left:779.40px;top:558.60px;width:54.00px;height:30.80px;line-height:30.80px;padding-top:3.00px"><span class="d">11</span></div>
<div class="cl" style="left:833.40px;top:558.60px;width:180.10px;height:30.80px;line-height:30.80px;padding-top:3.00px">千葉大学</div>
<div class="c" style="left:1013.50px;top:558.60px;width:106.50px;height:30.80px;line-height:30.80px;padding-top:3.00px"><span class="d">145%</span></div>
<div class="c" style="left:1120.00px;top:558.60px;width:104.00px;height:30.80px;line-height:30.80px;padding-top:3.00px"><span class="d">22</span><span class="ar">→</span><span class="d">32</span></div>
<div class="cr" style="left:779.40px;top:589.40px;width:54.00px;height:30.80px;line-height:30.80px;padding-top:3.00px"><span class="d">12</span></div>
<div class="cl" style="left:833.40px;top:589.40px;width:180.10px;height:30.80px;line-height:30.80px;padding-top:3.00px">東京工業大学</div>
<div class="c" style="left:1013.50px;top:589.40px;width:106.50px;height:30.80px;line-height:30.80px;padding-top:3.00px"><span class="d">144%</span></div>
<div class="c" style="left:1120.00px;top:589.40px;width:104.00px;height:30.80px;line-height:30.80px;padding-top:3.00px"><span class="d">75</span><span class="ar">→</span><span class="d">108</span></div>
<div class="cr" style="left:779.40px;top:620.20px;width:54.00px;height:31.10px;line-height:31.10px;padding-top:3.00px"><span class="d">13</span></div>
<div class="cl" style="left:833.40px;top:620.20px;width:180.10px;height:31.10px;line-height:31.10px;padding-top:3.00px"><span class="sk" style="margin-right:-1.354em">デジタルハリウッド</span>大学</div>
<div class="c" style="left:1013.50px;top:620.20px;width:106.50px;height:31.10px;line-height:31.10px;padding-top:3.00px"><span class="d">141%</span></div>
<div class="c" style="left:1120.00px;top:620.20px;width:104.00px;height:31.10px;line-height:31.10px;padding-top:3.00px"><span class="d">70</span><span class="ar">→</span><span class="d">99</span></div>
<div class="cr" style="left:779.40px;top:651.30px;width:54.00px;height:31.00px;line-height:31.00px;padding-top:3.00px"><span class="d">14</span></div>
<div class="cl" style="left:833.40px;top:651.30px;width:180.10px;height:31.00px;line-height:31.00px;padding-top:3.00px">関西学院大学</div>
<div class="c" style="left:1013.50px;top:651.30px;width:106.50px;height:31.00px;line-height:31.00px;padding-top:3.00px"><span class="d">140%</span></div>
<div class="c" style="left:1120.00px;top:651.30px;width:104.00px;height:31.00px;line-height:31.00px;padding-top:3.00px"><span class="d">10</span><span class="ar">→</span><span class="d">14</span></div>
<div class="cr" style="left:779.40px;top:682.30px;width:54.00px;height:30.80px;line-height:30.80px;padding-top:3.00px"><span class="d">15</span></div>
<div class="cl" style="left:833.40px;top:682.30px;width:180.10px;height:30.80px;line-height:30.80px;padding-top:3.00px">東京都立大学</div>
<div class="c" style="left:1013.50px;top:682.30px;width:106.50px;height:30.80px;line-height:30.80px;padding-top:3.00px"><span class="d">138%</span></div>
<div class="c" style="left:1120.00px;top:682.30px;width:104.00px;height:30.80px;line-height:30.80px;padding-top:3.00px"><span class="d">8</span><span class="ar">→</span><span class="d">11</span></div>
<div class="cr" style="left:779.40px;top:713.10px;width:54.00px;height:30.20px;line-height:30.20px;padding-top:3.00px"><span class="d">15</span></div>
<div class="cl" style="left:833.40px;top:713.10px;width:180.10px;height:30.20px;line-height:30.20px;padding-top:3.00px">山形大学</div>
<div class="c" style="left:1013.50px;top:713.10px;width:106.50px;height:30.20px;line-height:30.20px;padding-top:3.00px"><span class="d">138%</span></div>
<div class="c" style="left:1120.00px;top:713.10px;width:104.00px;height:30.20px;line-height:30.20px;padding-top:3.00px"><span class="d">8</span><span class="ar">→</span><span class="d">11</span></div>
<div class="a" style="left:778px;top:218px;width:446px;height:1px;background:#b4b4b4"></div>
<div class="a" style="left:778px;top:247px;width:446px;height:1px;background:#b4b4b4"></div>
<div class="a" style="left:778px;top:279px;width:446px;height:1px;background:#b4b4b4"></div>
<div class="a" style="left:778px;top:309px;width:446px;height:1px;background:#b4b4b4"></div>
<div class="a" style="left:778px;top:340px;width:446px;height:1px;background:#b4b4b4"></div>
<div class="a" style="left:778px;top:371px;width:446px;height:1px;background:#b4b4b4"></div>
<div class="a" style="left:778px;top:402px;width:446px;height:1px;background:#b4b4b4"></div>
<div class="a" style="left:778px;top:433px;width:446px;height:1px;background:#b4b4b4"></div>
<div class="a" style="left:778px;top:464px;width:446px;height:1px;background:#b4b4b4"></div>
<div class="a" style="left:778px;top:496px;width:446px;height:1px;background:#b4b4b4"></div>
<div class="a" style="left:778px;top:527px;width:446px;height:1px;background:#b4b4b4"></div>
<div class="a" style="left:778px;top:558px;width:446px;height:1px;background:#b4b4b4"></div>
<div class="a" style="left:778px;top:588px;width:446px;height:1px;background:#b4b4b4"></div>
<div class="a" style="left:778px;top:619px;width:446px;height:1px;background:#b4b4b4"></div>
<div class="a" style="left:778px;top:650px;width:446px;height:1px;background:#b4b4b4"></div>
<div class="a" style="left:778px;top:681px;width:446px;height:1px;background:#b4b4b4"></div>
<div class="a" style="left:778px;top:712px;width:446px;height:1px;background:#b4b4b4"></div>
<div class="a" style="left:778px;top:742px;width:446px;height:1px;background:#b4b4b4"></div>
<div class="a" style="left:779px;top:218px;width:1px;height:526px;background:#c4c4c4"></div>
<div class="a" style="left:833px;top:218px;width:1px;height:526px;background:#c4c4c4"></div>
<div class="a" style="left:1014px;top:218px;width:1px;height:526px;background:#c4c4c4"></div>
<div class="a" style="left:1120px;top:218px;width:1px;height:526px;background:#c4c4c4"></div>
<div class="a" style="left:1224px;top:218px;width:1px;height:526px;background:#c4c4c4"></div>
<div class="a" style="left:778px;top:219px;width:446px;height:1px;background:#262626"></div>
<div class="a" style="left:778px;top:248px;width:446px;height:1px;background:#262626"></div>
<div class="a" style="left:778px;top:280px;width:446px;height:1px;background:#262626"></div>
<div class="a" style="left:778px;top:310px;width:446px;height:1px;background:#262626"></div>
<div class="a" style="left:778px;top:341px;width:446px;height:1px;background:#262626"></div>
<div class="a" style="left:778px;top:372px;width:446px;height:1px;background:#262626"></div>
<div class="a" style="left:778px;top:403px;width:446px;height:1px;background:#262626"></div>
<div class="a" style="left:778px;top:434px;width:446px;height:1px;background:#262626"></div>
<div class="a" style="left:778px;top:465px;width:446px;height:1px;background:#262626"></div>
<div class="a" style="left:778px;top:497px;width:446px;height:1px;background:#262626"></div>
<div class="a" style="left:778px;top:528px;width:446px;height:1px;background:#262626"></div>
<div class="a" style="left:778px;top:559px;width:446px;height:1px;background:#262626"></div>
<div class="a" style="left:778px;top:589px;width:446px;height:1px;background:#262626"></div>
<div class="a" style="left:778px;top:620px;width:446px;height:1px;background:#262626"></div>
<div class="a" style="left:778px;top:651px;width:446px;height:1px;background:#262626"></div>
<div class="a" style="left:778px;top:682px;width:446px;height:1px;background:#262626"></div>
<div class="a" style="left:778px;top:713px;width:446px;height:1px;background:#262626"></div>
<div class="a" style="left:778px;top:743px;width:446px;height:1px;background:#262626"></div>
<div class="a" style="left:778px;top:218px;width:1px;height:526px;background:#4a4a4a"></div>
<div class="a" style="left:832px;top:218px;width:1px;height:526px;background:#4a4a4a"></div>
<div class="a" style="left:1013px;top:218px;width:1px;height:526px;background:#4a4a4a"></div>
<div class="a" style="left:1119px;top:218px;width:1px;height:526px;background:#4a4a4a"></div>
<div class="a" style="left:1223px;top:218px;width:1px;height:526px;background:#4a4a4a"></div>
</div>
<div class="note" style="top:766px">※<span class="h">ここでいう</span>関連大学別大学発<span class="h">ベンチャー</span>数<span class="h">は</span><span class="p">、</span>本調査<span class="h">のベンチャー</span>類型<span class="h">に</span>基<span class="h">づく</span>大学発<span class="h">ベンチャーの</span>設立数<span class="h">を</span>示<span class="h">すため</span><span class="p">、</span>大学公認<span class="h">の</span>大学発<span class="h">ベンチャーの</span>設立数<span class="h">とは</span>異<span class="h">なる</span>可能性<span class="h">がある</span><span class="p">。</span></div>
<div class="note" style="top:783.8px">※<span class="h">また</span><span class="p">、</span>複数<span class="h">の</span>大学<span class="h">が</span>関連<span class="h">する</span>大学発<span class="h">ベンチャーも</span>数多<span class="h">く</span>存在<span class="h">するため</span><span class="p">、</span>関連大学別<span class="h">の</span>大学発<span class="h">ベンチャーの</span>合計数<span class="h">は</span>P９<span class="h">で</span>示<span class="h">した</span>大学発<span class="h">ベンチャーの</span>合計数<span class="h">とは</span>一致<span class="h">しない</span><span class="p">。</span></div>
<div class="note" style="top:801.6px">※本調査<span class="h">の</span>調査時点（<span class="d">2021</span>年<span class="d">11</span>月）<span class="h">と</span>大学<span class="h">におけるベンチャー</span>把握<span class="h">のタイムラグにより</span><span class="p">、</span>調査時点<span class="h">でカウントされていない</span>企業<span class="h">が</span>一定数<span class="h">あると</span>考<span class="h">えられる</span><span class="p">。</span></div>
<div class="a" style="left:0;top:866px;width:1250px;height:2px;background:#2a8bb8"></div>
<div id="copy" class="a">Copyright (C) 2022&nbsp; Value Management Institute, Inc.&nbsp; All Rights Reserved.</div>
<svg class="a" style="left:1160px;top:840px" width="120" height="47" viewBox="1160 840 120 47">
<defs><radialGradient id="rm" cx="0.45" cy="0.4" r="0.6"><stop offset="0" stop-color="#30a8e4"/><stop offset="0.85" stop-color="#1a96d8"/><stop offset="1" stop-color="#8fd0f0"/></radialGradient></defs>
<circle cx="1248" cy="866" r="19.5" fill="url(#rm)"/>
<text x="1170" y="872.5" font-family="Liberation Sans, sans-serif" font-weight="bold" font-size="23.5" textLength="96.5" lengthAdjust="spacingAndGlyphs" fill="#7a7a7a" stroke="#7a7a7a" stroke-width="0.7" fill-opacity="0.9" stroke-opacity="0.9">Rese<tspan fill="#1b5f8e" stroke="#1b5f8e" fill-opacity="0.95">Mom</tspan></text>
<text x="1243" y="854.5" font-family="Noto Sans CJK JP, sans-serif" font-size="4.5" fill="#1b5f8e">リセマム</text>
<circle cx="1266.2" cy="872" r="1.3" fill="#1b5f8e"/>
</svg>
</body></html>
